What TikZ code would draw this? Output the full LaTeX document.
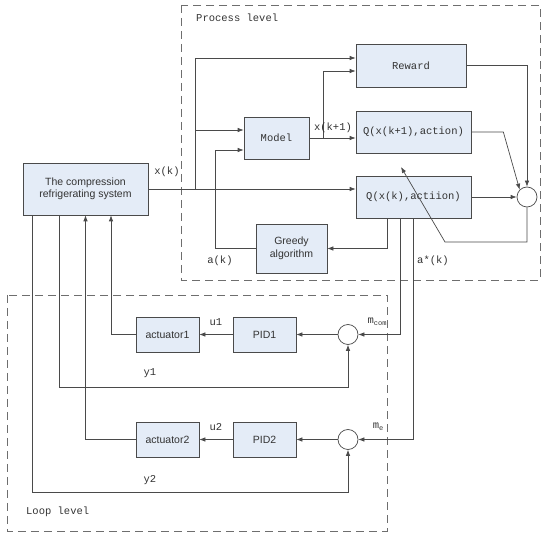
\documentclass[tikz,border=0pt]{standalone}
\usepackage{fontspec}
\setsansfont{Liberation Sans}
\newfontfamily\monofont{Liberation Mono}
\usetikzlibrary{calc,arrows.meta,positioning}
\definecolor{boxfill}{HTML}{E4ECF7}
\definecolor{linegray}{HTML}{4A4A4A}
\definecolor{dashgray}{HTML}{6E6E6E}
\tikzset{
  ar/.style={-{Latex[length=6pt,width=4.5pt]},line width=0.7pt,linegray},
  blk/.style={draw=linegray,line width=0.7pt,fill=boxfill,align=center,inner sep=2pt,text=black!80},
  mono/.style={font=\monofont\fontsize{10.5}{12}\selectfont},
  sans/.style={font=\sffamily\fontsize{10.5}{12.5}\selectfont},
  sumc/.style={circle,draw=linegray,line width=0.7pt,fill=white,minimum size=20pt,inner sep=0pt},
  lvl/.style={draw=dashgray,line width=0.7pt,dash pattern=on 8pt off 5pt},
  lbl/.style={mono,text=black!80,inner sep=1pt}
}
\begin{document}
\begin{tikzpicture}[x=1pt,y=-1pt]
\useasboundingbox (0,0) rectangle (550,540);
% level frames
\draw[lvl] (181,5) rectangle (540,280);
\draw[lvl] (7,295) rectangle (387,531);
\node[lbl,anchor=west] (proclbl) at (195,18) {Process level};
\node[lbl,anchor=west] (looplbl) at (25,512) {Loop level};
% process level
\node[blk,sans,minimum width=125pt,minimum height=52pt] (sys) at (85.5,189) {The compression\\refrigerating system};
\node[blk,mono,minimum width=110pt,minimum height=43pt] (reward) at (411,65.5) {Reward};
\node[blk,mono,minimum width=115pt,minimum height=42pt] (qnext) at (413.5,132) {Q(x(k+1),action)};
\node[blk,mono,minimum width=65pt,minimum height=42pt] (model) at (276.5,138) {Model};
\node[blk,mono,minimum width=115pt,minimum height=42pt] (qnow) at (413.5,197) {Q(x(k),actiion)};
\node[blk,sans,minimum width=71pt,minimum height=49pt] (greedy) at (291.5,248.5) {Greedy\\algorithm};
\node[sumc] (sum) at (527,197) {};
% loop level
\node[blk,sans,minimum width=63pt,minimum height=35pt] (pid1) at (264.5,334.5) {PID1};
\node[blk,sans,minimum width=63pt,minimum height=35pt] (act1) at (167.5,334.5) {actuator1};
\node[sumc] (c1) at (348,334.5) {};
\node[blk,sans,minimum width=63pt,minimum height=35pt] (pid2) at (264.5,439.5) {PID2};
\node[blk,sans,minimum width=63pt,minimum height=35pt] (act2) at (167.5,439.5) {actuator2};
\node[sumc] (c2) at (348,439.5) {};
\coordinate (tap) at (195,189);
\coordinate (tapm) at (195,130);
% connectors, process level
\draw[ar] (sys.east) -- (sys.east -| qnow.west);
\draw[ar] (tap) |- ($(reward.west)+(0,-7.5)$);
\draw[ar] (tapm) -- (tapm -| model.west);
\draw[ar] (greedy.west) -| ($(model.west)+(-28,12)$) -- ($(model.west)+(0,12)$);
\draw[ar] (model.east) -- (model.east -| qnext.west);
\draw[ar] ($(model.east)+(14,0)$) |- ($(reward.west)+(0,5.5)$);
\draw[ar] (reward.east) -| (sum.north);
\draw[ar] (qnext.east) -- ++(32,0) -- (sum.north west);
\draw[ar] (qnow.east) -- (sum.west);
\draw[ar] (sum.south) |- (445,242) -- (401,167);
\draw[ar] ([xshift=-26.5pt]qnow.south) |- (greedy.east);
\draw[ar] ([xshift=-13.5pt]qnow.south) |- (c1.east);
\draw[ar] (qnow.south) |- (c2.east);
% connectors, loop level
\draw[ar] (c1.west) -- (pid1.east);
\draw[ar] (pid1.west) -- (act1.east);
\draw[ar] (act1.west) -| ([xshift=25.5pt]sys.south);
\draw[ar] (c2.west) -- (pid2.east);
\draw[ar] (pid2.west) -- (act2.east);
\draw[ar] (act2.west) -| (sys.south);
\draw[ar] ([xshift=-26.5pt]sys.south) |- ($(c1.south)+(0,43)$) -- (c1.south);
\draw[ar] ([xshift=-53.5pt]sys.south) |- ($(c2.south)+(0,43)$) -- (c2.south);
% signal labels
\node[lbl] (xk) at (167,172) {x(k)};
\node[lbl] (xk1) at (333,128) {x(k+1)};
\node[lbl] (ak) at (220,261) {a(k)};
\node[lbl] (ask) at (433,261) {a*(k)};
\node[lbl] (u1) at (216,322) {u1};
\node[lbl] (u2) at (216,427) {u2};
\node[lbl] (y1) at (150,373) {y1};
\node[lbl] (y2) at (150,480) {y2};
\node[lbl] (mcom) at (377,322) {m\raisebox{-2pt}{\fontsize{7}{8}\selectfont com}};
\node[lbl] (me) at (378,427) {m\raisebox{-2pt}{\fontsize{7}{8}\selectfont e}};
\end{tikzpicture}
\end{document}
